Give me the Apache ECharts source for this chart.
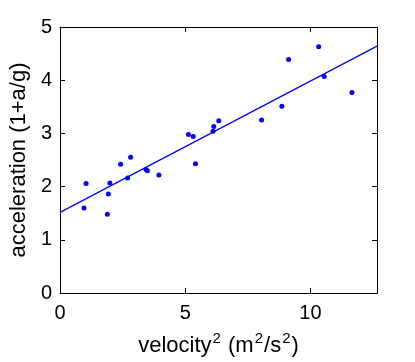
<!DOCTYPE html>
<html>
<head>
<meta charset="utf-8">
<script src="https://cdn.jsdelivr.net/npm/echarts@6/dist/echarts.min.js"></script>
<style>
  html, body { margin: 0; padding: 0; background: #fff; }
  #chart { width: 415px; height: 362px; }
</style>
</head>
<body>
<div id="chart"></div>
<script>
// measured points: velocity^2 (m^2/s^2) and acceleration (1+a/g)
const velocitySq = [0.96, 1.04, 1.89, 1.93, 1.99, 2.42, 2.70, 2.82, 3.43, 3.49, 3.95,
  5.13, 5.32, 5.41, 6.11, 6.14, 6.34, 8.05, 8.86, 9.13, 10.33, 10.55, 11.66];
const acceleration = [1.60, 2.06, 1.48, 1.86, 2.07, 2.42, 2.16, 2.55, 2.32, 2.30, 2.22,
  2.98, 2.94, 2.43, 3.04, 3.13, 3.24, 3.25, 3.51, 4.39, 4.63, 4.07, 3.77];

// fitted line end points
const fitX = [0, 12.66];
const fitY = [1.515, 4.64];

const xTicks = [0, 5, 10];
const yTicks = [0, 1, 2, 3, 4, 5];

const font = 'Liberation Sans, Helvetica, Arial, sans-serif';
const blue = '#0000ff';

const chart = echarts.init(document.getElementById('chart'));

const baseAxis = {
  axisLine: { show: true, onZero: false, lineStyle: { color: '#000', width: 1 } },
  axisTick: { show: true, inside: true, length: 5, lineStyle: { color: '#000' } },
  splitLine: { show: false },
};

const option = {
  backgroundColor: '#fff',
  animation: false,
  grid: { left: 56, right: 38, top: 27, bottom: 67 },
  xAxis: [
    {
      ...baseAxis,
      type: 'value',
      min: 0,
      max: fitX[1],
      interval: 5,
      position: 'bottom',
      axisLabel: {
        color: '#000', fontSize: 20, fontFamily: font, margin: 10,
        formatter: (v) => (xTicks.includes(v) ? String(v) : ''),
      },
      name: '{m|velocity}{s|2}{m| (m}{s|2}{m|/s}{s|2}{m|)}',
      nameLocation: 'middle',
      nameGap: 38,
      nameTextStyle: {
        rich: {
          m: { fontSize: 22, fontFamily: font, color: '#000', lineHeight: 24, padding: [6, 0, 0, 0] },
          s: { fontSize: 15, fontFamily: font, color: '#000', lineHeight: 16, padding: [0, 1, 8, 1] },
        },
      },
    },
    {
      ...baseAxis,
      type: 'value',
      min: 0,
      max: fitX[1],
      interval: 5,
      position: 'top',
      axisLabel: { show: false },
    },
  ],
  yAxis: [
    {
      ...baseAxis,
      type: 'value',
      min: yTicks[0],
      max: yTicks[yTicks.length - 1],
      interval: 1,
      position: 'left',
      axisLabel: { color: '#000', fontSize: 20, fontFamily: font, margin: 8 },
      name: 'acceleration (1+a/g)',
      nameLocation: 'middle',
      nameGap: 29,
      nameTextStyle: { fontSize: 22, fontFamily: font, color: '#000' },
    },
    {
      ...baseAxis,
      type: 'value',
      min: yTicks[0],
      max: yTicks[yTicks.length - 1],
      interval: 1,
      position: 'right',
      axisLabel: { show: false },
    },
  ],
  series: [
    {
      type: 'line',
      data: fitX.map((x, i) => [x, fitY[i]]),
      showSymbol: false,
      lineStyle: { color: blue, width: 1.2 },
      z: 2,
    },
    {
      type: 'scatter',
      data: velocitySq.map((x, i) => [x, acceleration[i]]),
      symbolSize: 5,
      itemStyle: { color: blue, opacity: 1 },
      z: 3,
    },
  ],
};

chart.setOption(option);
</script>
</body>
</html>
